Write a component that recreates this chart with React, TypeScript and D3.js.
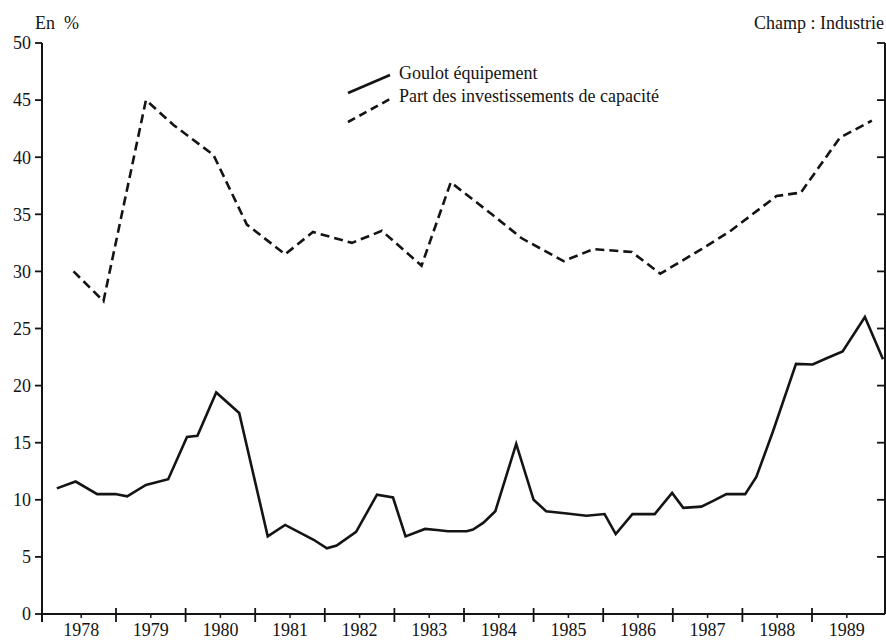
import React, { useEffect } from "react";
import * as d3 from "d3";

const years = [1978, 1979, 1980, 1981, 1982, 1983, 1984, 1985, 1986, 1987, 1988, 1989];
const yTicks = [0, 5, 10, 15, 20, 25, 30, 35, 40, 45, 50];

const goulotDates = [
  1978.15, 1978.42, 1978.73, 1978.99,
  1979.16, 1979.43, 1979.75,
  1980.02, 1980.17, 1980.44, 1980.77,
  1981.18, 1981.43, 1981.84,
  1982.03, 1982.17, 1982.45, 1982.75, 1982.98,
  1983.16, 1983.44, 1983.61, 1983.77,
  1984.04, 1984.13, 1984.28, 1984.45, 1984.75,
  1985.0, 1985.18, 1985.48, 1985.76,
  1986.02, 1986.18, 1986.42, 1986.74, 1986.99,
  1987.15, 1987.41, 1987.58, 1987.77,
  1988.04, 1988.2, 1988.44, 1988.77,
  1989.01, 1989.21, 1989.44, 1989.76,
  1990.02,
];
const goulotValues = [
  11.0, 11.6, 10.5, 10.5,
  10.3, 11.3, 11.8,
  15.5, 15.6, 19.4, 17.6,
  6.8, 7.8, 6.5,
  5.75, 6.0, 7.2, 10.45, 10.2,
  6.8, 7.45, 7.35, 7.25,
  7.25, 7.4, 8.0, 9.0, 14.9,
  10.0, 9.0, 8.8, 8.6,
  8.75, 7.0, 8.75, 8.75, 10.6,
  9.3, 9.4, 9.9, 10.5,
  10.5, 12.0, 16.0, 21.9,
  21.85, 22.4, 23.0, 26.0,
  22.3,
];

const partDates = [
  1978.39, 1978.82, 1979.43, 1979.83, 1980.4, 1980.88, 1981.43, 1981.83,
  1982.39, 1982.82, 1983.39, 1983.81, 1984.4, 1984.83, 1985.43, 1985.86,
  1986.41, 1986.82, 1987.4, 1987.82, 1988.49, 1988.84, 1989.4, 1989.86,
];
const partValues = [
  30.0, 27.4, 45.0, 42.8, 40.2, 34.1, 31.5, 33.45,
  32.5, 33.55, 30.5, 37.8, 35.0, 32.9, 30.9, 31.95,
  31.7, 29.8, 31.9, 33.5, 36.6, 36.9, 41.7, 43.2,
];

const legendLabels = ["Goulot équipement", "Part des investissements de capacité"];
const unitLabel = "En  %";
const fieldLabel = "Champ : Industrie";

const W = 886;
const H = 641;
const FONT = "'Liberation Serif', 'Times New Roman', serif";
const INK = "#141414";

export default function App() {
  useEffect(() => {
    document.body.style.margin = "0";
  }, []);

  const x = d3.scaleLinear().domain([1978, 1990]).range([46.4, 881.6]);
  const y = d3.scaleLinear().domain([0, 50]).range([614, 43]);
  const xLeft = 42;
  const xRight = 885;

  const line = d3
    .line<[number, number]>()
    .x((d) => x(d[0]))
    .y((d) => y(d[1]));

  const goulot = goulotDates.map((t, i) => [t, goulotValues[i]] as [number, number]);
  const part = partDates.map((t, i) => [t, partValues[i]] as [number, number]);

  return (
    <svg width={W} height={H} style={{ display: "block", background: "#fff" }} fontFamily={FONT}>
      {/* axes */}
      <line x1={xLeft} x2={xLeft} y1={y(50)} y2={622} stroke={INK} strokeWidth={2} />
      <line x1={xRight} x2={xRight} y1={y(50)} y2={y(0)} stroke={INK} strokeWidth={2} />
      <line x1={xLeft} x2={xRight} y1={y(0)} y2={y(0)} stroke={INK} strokeWidth={2} />

      {yTicks.map((v) => (
        <g key={"yt" + v}>
          <line x1={xLeft - 7} x2={xLeft} y1={y(v)} y2={y(v)} stroke={INK} strokeWidth={1.8} />
          <line x1={xRight - 8} x2={xRight} y1={y(v)} y2={y(v)} stroke={INK} strokeWidth={1.8} />
          <text x={31} y={y(v)} dy="0.35em" textAnchor="end" fontSize={18} fill={INK}>
            {v}
          </text>
        </g>
      ))}

      {years.map((yr) => (
        <g key={"xt" + yr}>
          {yr > 1978 && (
            <line x1={x(yr)} x2={x(yr)} y1={608} y2={622} stroke={INK} strokeWidth={1.8} />
          )}
          <line x1={x(yr + 0.5)} x2={x(yr + 0.5)} y1={y(0)} y2={618} stroke={INK} strokeWidth={1.5} />
          <text x={x(yr + 0.5)} y={636} textAnchor="middle" fontSize={18} fill={INK}>
            {yr}
          </text>
        </g>
      ))}

      {/* series */}
      <path d={line(part) || ""} fill="none" stroke={INK} strokeWidth={2.6} strokeDasharray="9,5" strokeLinejoin="miter" />
      <path d={line(goulot) || ""} fill="none" stroke={INK} strokeWidth={2.6} strokeLinejoin="miter" />

      {/* legend */}
      <line x1={348} y1={93} x2={390} y2={75} stroke={INK} strokeWidth={2.6} />
      <line x1={348} y1={122} x2={390} y2={99} stroke={INK} strokeWidth={2.6} strokeDasharray="8,5" />
      <text x={399} y={79} fontSize={18} fill={INK}>
        {legendLabels[0]}
      </text>
      <text x={399} y={102} fontSize={18} fill={INK}>
        {legendLabels[1]}
      </text>

      {/* headers */}
      <text x={35} y={29} fontSize={18} fill={INK} style={{ whiteSpace: "pre" }}>
        {unitLabel}
      </text>
      <text x={884} y={29} textAnchor="end" fontSize={18} fill={INK}>
        {fieldLabel}
      </text>
    </svg>
  );
}
